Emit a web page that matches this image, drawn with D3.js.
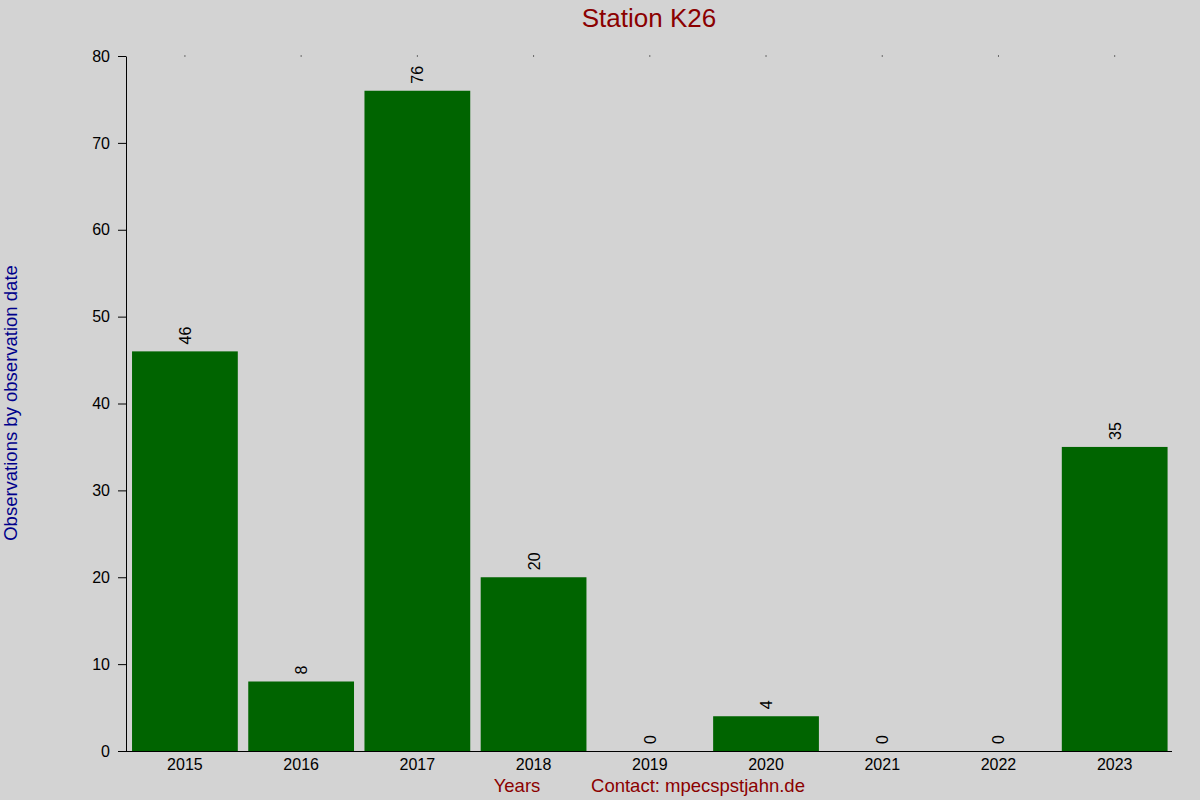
<!DOCTYPE html>
<html><head><meta charset="utf-8">
<script src="https://cdn.jsdelivr.net/npm/d3@7"></script>
<style>body{margin:0;background:#d3d3d3;}svg{display:block;font-family:"Liberation Sans",Arial,sans-serif;}</style>
</head><body>
<svg id="c" width="1200" height="800"></svg>
<script>
const years = ["2015","2016","2017","2018","2019","2020","2021","2022","2023"];
const counts = [46, 8, 76, 20, 0, 4, 0, 0, 35];
const yTicks = [0,10,20,30,40,50,60,70,80];

const svg = d3.select("#c");
svg.append("rect").attr("width",1200).attr("height",800).attr("fill","#d3d3d3");

const x = d3.scaleBand().domain(years).range([126.8,1172.8]).paddingInner(0.09).paddingOuter(0.045);
const y = d3.scaleLinear().domain([0,80]).range([751,56]);

svg.selectAll("rect.bar").data(years).join("rect").attr("class","bar")
  .attr("x",d=>x(d)).attr("width",x.bandwidth())
  .attr("y",(d,i)=>y(counts[i])).attr("height",(d,i)=>y(0)-y(counts[i]))
  .attr("fill","#006400");

// y axis
const ya = svg.append("g").attr("transform","translate(126,0)")
  .call(d3.axisLeft(y).tickValues(yTicks).tickSize(8).tickPadding(8).tickSizeOuter(0));
ya.attr("font-family","Liberation Sans, Arial, sans-serif").attr("font-size",16);
ya.selectAll("text").attr("fill","#000");
ya.select(".domain").attr("stroke","#000");
ya.selectAll("line").attr("stroke","#000");

// x axis
const xa = svg.append("g").attr("transform","translate(0,751)")
  .call(d3.axisBottom(x).tickSize(0).tickPadding(8).tickSizeOuter(0));
xa.attr("font-family","Liberation Sans, Arial, sans-serif").attr("font-size",16);
xa.select(".domain").attr("d","M118,0.5H1172").attr("stroke","#000");
xa.selectAll("text").attr("fill","#000");

// top dots
svg.selectAll("rect.dot").data(years).join("rect").attr("class","dot")
  .attr("x",d=>x(d)+x.bandwidth()/2-0.5).attr("y",55.5).attr("width",1).attr("height",1).attr("fill","#000");

// value labels
svg.selectAll("text.val").data(years).join("text").attr("class","val")
  .attr("transform",(d,i)=>`translate(${x(d)+x.bandwidth()/2+6},${y(counts[i])-7}) rotate(-90)`)
  .attr("font-size",16).attr("fill","#000").text((d,i)=>counts[i]);

svg.append("text").attr("x",649).attr("y",27).attr("text-anchor","middle")
  .attr("font-size",26).attr("fill","#8b0000").text("Station K26");
svg.append("text").attr("transform","translate(17,403) rotate(-90)").attr("text-anchor","middle")
  .attr("font-size",18.5).attr("fill","#00008b").text("Observations by observation date");
svg.append("text").attr("x",517).attr("y",792).attr("text-anchor","middle")
  .attr("font-size",18.5).attr("fill","#8b0000").text("Years");
svg.append("text").attr("x",698).attr("y",792).attr("text-anchor","middle")
  .attr("font-size",18.5).attr("fill","#8b0000").text("Contact: mpecspstjahn.de");
</script>
</body></html>
